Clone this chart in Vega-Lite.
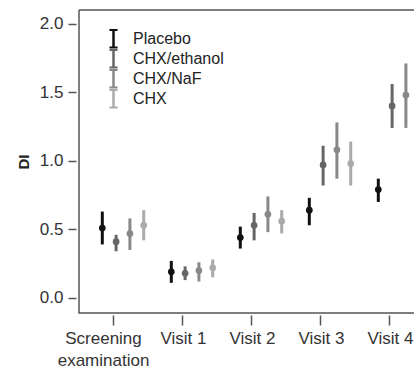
{
  "$schema": "https://vega.github.io/schema/vega-lite/v6.json",
  "width": 335,
  "height": 303,
  "autosize": "none",
  "padding": {"left": 79, "top": 10, "right": 0, "bottom": 54},
  "background": "white",
  "config": {
    "font": "Liberation Sans",
    "view": {"stroke": "#555", "strokeWidth": 1.5, "strokeDash": [335, 303, 638, 0]}
  },
  "data": {
    "values": [
      {"visit": "Screening examination", "group": "Placebo", "mean": 0.51, "lo": 0.39, "hi": 0.63},
      {"visit": "Screening examination", "group": "CHX/ethanol", "mean": 0.41, "lo": 0.34, "hi": 0.46},
      {"visit": "Screening examination", "group": "CHX/NaF", "mean": 0.47, "lo": 0.35, "hi": 0.58},
      {"visit": "Screening examination", "group": "CHX", "mean": 0.53, "lo": 0.42, "hi": 0.64},
      {"visit": "Visit 1", "group": "Placebo", "mean": 0.19, "lo": 0.11, "hi": 0.27},
      {"visit": "Visit 1", "group": "CHX/ethanol", "mean": 0.18, "lo": 0.13, "hi": 0.23},
      {"visit": "Visit 1", "group": "CHX/NaF", "mean": 0.2, "lo": 0.12, "hi": 0.26},
      {"visit": "Visit 1", "group": "CHX", "mean": 0.22, "lo": 0.15, "hi": 0.28},
      {"visit": "Visit 2", "group": "Placebo", "mean": 0.44, "lo": 0.36, "hi": 0.52},
      {"visit": "Visit 2", "group": "CHX/ethanol", "mean": 0.53, "lo": 0.42, "hi": 0.62},
      {"visit": "Visit 2", "group": "CHX/NaF", "mean": 0.61, "lo": 0.48, "hi": 0.74},
      {"visit": "Visit 2", "group": "CHX", "mean": 0.56, "lo": 0.47, "hi": 0.64},
      {"visit": "Visit 3", "group": "Placebo", "mean": 0.64, "lo": 0.53, "hi": 0.73},
      {"visit": "Visit 3", "group": "CHX/ethanol", "mean": 0.97, "lo": 0.82, "hi": 1.11},
      {"visit": "Visit 3", "group": "CHX/NaF", "mean": 1.08, "lo": 0.87, "hi": 1.28},
      {"visit": "Visit 3", "group": "CHX", "mean": 0.98, "lo": 0.82, "hi": 1.14},
      {"visit": "Visit 4", "group": "Placebo", "mean": 0.79, "lo": 0.7, "hi": 0.87},
      {"visit": "Visit 4", "group": "CHX/ethanol", "mean": 1.4, "lo": 1.24, "hi": 1.56},
      {"visit": "Visit 4", "group": "CHX/NaF", "mean": 1.48, "lo": 1.24, "hi": 1.71},
      {"visit": "Visit 4", "group": "CHX", "mean": 1.45, "lo": 1.26, "hi": 1.64}
    ]
  },
  "encoding": {
    "x": {
      "field": "visit",
      "type": "nominal",
      "sort": ["Screening examination", "Visit 1", "Visit 2", "Visit 3", "Visit 4"],
      "scale": {"range": [0, 345], "paddingInner": 0, "paddingOuter": 0},
      "axis": {
        "title": null,
        "domain": false,
        "offset": 2,
        "tickSize": 10,
        "tickColor": "#555",
        "tickWidth": 1.5,
        "labelAngle": 0,
        "labelFontSize": 17,
        "labelColor": "#333",
        "labelPadding": 5,
        "labelLineHeight": 22,
        "labelBaseline": "top",
        "labelOffset": {"condition": {"test": "datum.value == 'Screening examination'", "value": -10}, "value": 1},
        "labelExpr": "datum.label == 'Screening examination' ? ['Screening', 'examination'] : datum.label"
      }
    },
    "xOffset": {
      "field": "group",
      "type": "nominal",
      "sort": ["Placebo", "CHX/ethanol", "CHX/NaF", "CHX"],
      "scale": {"type": "point", "padding": 2.8125, "align": 0.8444}
    }
  },
  "layer": [
    {
      "mark": {"type": "rule", "strokeWidth": 3},
      "encoding": {
        "y": {
          "field": "lo",
          "type": "quantitative",
          "scale": {"domain": [-0.11, 2.1], "nice": false, "zero": false},
          "axis": {
            "values": [0, 0.5, 1, 1.5, 2],
            "format": ".1f",
            "grid": false,
            "domain": false,
            "offset": 3,
            "tickSize": 8,
            "tickColor": "#555",
            "tickWidth": 1.5,
            "labelFontSize": 17,
            "labelColor": "#333",
            "labelPadding": 5,
            "title": "DI",
            "titleFontSize": 15,
            "titleFontWeight": "bold",
            "titleColor": "#222",
            "titlePadding": 8
          }
        },
        "y2": {"field": "hi"},
        "color": {
          "field": "group",
          "type": "nominal",
          "sort": ["Placebo", "CHX/ethanol", "CHX/NaF", "CHX"],
          "scale": {"domain": ["Placebo", "CHX/ethanol", "CHX/NaF", "CHX"], "range": ["#111111", "#666666", "#888888", "#aaaaaa"]},
          "legend": {
            "title": null,
            "orient": "none",
            "legendX": 24,
            "legendY": 19,
            "labelFontSize": 16,
            "labelColor": "#222",
            "symbolType": "M-0.45,-1H0.45M0,-1V1M-0.45,1H0.45",
            "symbolSize": 324,
            "symbolStrokeWidth": 2.5,
            "labelOffset": 9,
            "clipHeight": 19.5,
            "rowPadding": 0
          }
        }
      }
    },
    {
      "mark": {"type": "point", "filled": true, "size": 45, "opacity": 1},
      "encoding": {
        "y": {"field": "mean", "type": "quantitative"},
        "fill": {
          "field": "group",
          "type": "nominal",
          "scale": {"domain": ["Placebo", "CHX/ethanol", "CHX/NaF", "CHX"], "range": ["#111111", "#666666", "#888888", "#aaaaaa"]},
          "legend": null
        }
      }
    }
  ]
}
